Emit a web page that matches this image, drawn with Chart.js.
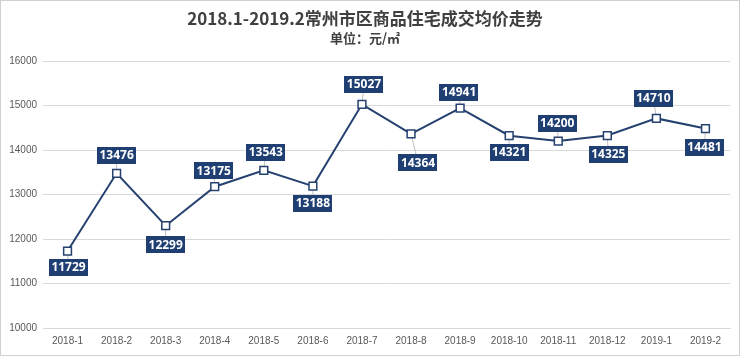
<!DOCTYPE html>
<html><head><meta charset="utf-8">
<script src="https://cdn.jsdelivr.net/npm/chart.js@4"></script>
<style>html,body{margin:0;padding:0;background:#fff}#wrap{width:740px;height:356px;position:relative}</style>
</head><body><div id="wrap"><canvas id="c"></canvas></div>
<script>
const categories = ['2018-1','2018-2','2018-3','2018-4','2018-5','2018-6','2018-7','2018-8','2018-9','2018-10','2018-11','2018-12','2019-1','2019-2'];
const avgPrice = [11729,13476,12299,13175,13543,13188,15027,14364,14941,14321,14200,14325,14710,14481];
const yTicks = [10000,11000,12000,13000,14000,15000,16000];
const titleText = '2018.1-2019.2常州市区商品住宅成交均价走势';
const unitText = '单位：元/㎡';
// label box placement relative to point (style only)
const labelOffsets = [[1,16.5],[0,-18],[0,19],[-1,-16],[2,-18],[0,17],[2,-20],[7,29],[-1,-16],[0,16.5],[-1,-18],[1,18.5],[-3,-20],[-1,18.5]];

const NAVY = '#25416F';
const BOX = '#1F3F73';

const borderPlugin = {
  id: 'frame',
  beforeDraw(chart) {
    const ctx = chart.ctx;
    ctx.save();
    ctx.fillStyle = '#fff';
    ctx.fillRect(0, 0, chart.width, chart.height);
    ctx.strokeStyle = '#d0d0d0';
    ctx.lineWidth = 1;
    ctx.strokeRect(0.5, 0.5, chart.width - 1, chart.height - 1);
    ctx.restore();
  }
};

const labelPlugin = {
  id: 'boxLabels',
  beforeDatasetsDraw(chart) {
    const ctx = chart.ctx;
    const meta = chart.getDatasetMeta(0);
    ctx.save();
    ctx.strokeStyle = '#bfbfbf';
    ctx.lineWidth = 1;
    meta.data.forEach((pt, i) => {
      const o = labelOffsets[i];
      ctx.beginPath();
      ctx.moveTo(pt.x, pt.y);
      ctx.lineTo(pt.x + o[0], pt.y + o[1]);
      ctx.stroke();
    });
    ctx.restore();
  },
  afterDatasetsDraw(chart) {
    const ctx = chart.ctx;
    const meta = chart.getDatasetMeta(0);
    ctx.save();
    ctx.font = 'bold 12px "Open Sans"';
    ctx.textAlign = 'center';
    ctx.textBaseline = 'middle';
    meta.data.forEach((pt, i) => {
      const txt = String(chart.data.datasets[0].data[i]);
      const w = ctx.measureText(txt).width + 5;
      const h = 17;
      const cx = pt.x + labelOffsets[i][0];
      const cy = pt.y + labelOffsets[i][1];
      ctx.fillStyle = BOX;
      ctx.fillRect(Math.round(cx - w / 2), Math.round(cy - h / 2), Math.round(w), h);
      ctx.fillStyle = '#ffffff';
      ctx.fillText(txt, cx, cy + 0.5);
    });
    ctx.restore();
  }
};

new Chart(document.getElementById('c'), {
  type: 'line',
  data: {
    labels: categories,
    datasets: [{
      data: avgPrice,
      borderColor: NAVY,
      borderWidth: 2,
      pointStyle: 'rect',
      pointRadius: 5.5,
      pointBorderWidth: 1.5,
      pointBackgroundColor: '#ffffff',
      pointBorderColor: NAVY,
      tension: 0
    }]
  },
  options: {
    responsive: true,
    maintainAspectRatio: false,
    animation: false,
    layout: { padding: { left: 0, right: 10, top: 0, bottom: 0 } },
    plugins: {
      legend: { display: false },
      tooltip: { enabled: false },
      title: {
        display: true,
        text: titleText,
        color: '#404040',
        font: { family: '"Noto Sans CJK SC"', size: 17, weight: 'bold' },
        padding: { top: 8, bottom: 0 }
      },
      subtitle: {
        display: true,
        text: unitText,
        color: '#404040',
        font: { family: '"Noto Sans CJK SC"', size: 13, weight: 'bold' },
        padding: { top: 2, bottom: 15 }
      }
    },
    scales: {
      x: {
        type: 'category',
        offset: true,
        grid: { display: false, drawTicks: false },
        border: { display: true, color: '#d9d9d9' },
        ticks: { color: '#595959', font: { family: '"Liberation Sans"', size: 10 }, padding: 7, maxRotation: 0, autoSkip: false },
        afterFit(scale) { scale.height = 28; }
      },
      y: {
        min: 10000,
        max: 16000,
        afterBuildTicks(scale) { scale.ticks = yTicks.map(v => ({ value: v })); },
        grid: { color: '#d9d9d9', drawTicks: false },
        border: { display: false },
        ticks: { color: '#595959', font: { family: '"Liberation Sans"', size: 10 }, padding: 6, callback: v => String(v) },
        afterFit(scale) { scale.width = 43; }
      }
    }
  },
  plugins: [borderPlugin, labelPlugin]
});
</script>
</body></html>
